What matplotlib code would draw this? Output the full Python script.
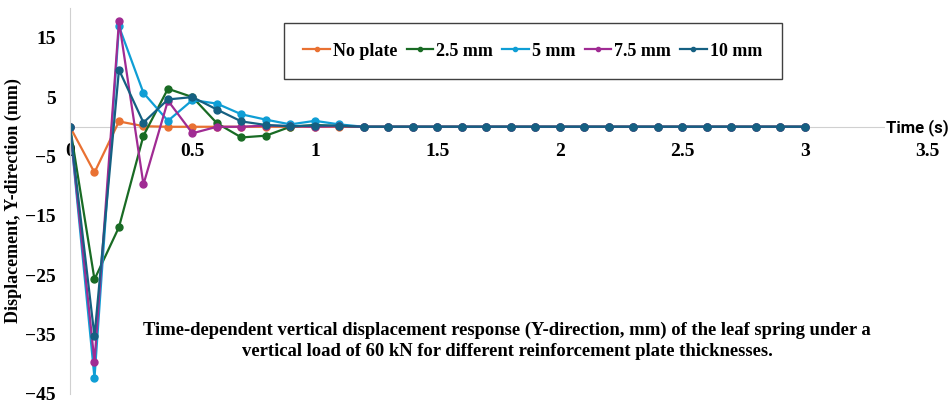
import numpy as np
import matplotlib
matplotlib.use("Agg")
import matplotlib.pyplot as plt

# time steps, 0 to 3 s every 0.1 s
time = [round(0.1 * i, 1) for i in range(31)]

no_plate = [0, -7.7, 0.9, 0.1, 0, 0, 0, 0, 0, 0, 0] + [0] * 20
mm_2_5 = [0, -25.7, -16.9, -1.5, 6.4, 5.0, 0.6, -1.8, -1.5, 0, 0.3, 0.1] + [0] * 19
mm_5 = [0, -42.3, 16.9, 5.7, 1.0, 4.5, 3.9, 2.1, 1.2, 0.4, 1.0, 0.4] + [0] * 19
mm_7_5 = [0, -39.6, 17.8, -9.7, 4.4, -1.1, 0, 0, 0.2, 0.1, 0, 0.1] + [0] * 19
mm_10 = [0, -35.3, 9.6, 0.7, 4.6, 5.0, 2.9, 0.9, 0.3, 0.1, 0.2, 0.2] + [0] * 19

labels = ["No plate", "2.5 mm", "5 mm", "7.5 mm", "10 mm"]
colors = ["#E97132", "#196B24", "#0F9ED5", "#A02B93", "#156082"]

x_ticks = [0, 0.5, 1, 1.5, 2, 2.5, 3, 3.5]
y_ticks = [-45, -35, -25, -15, -5, 5, 15]

serif = "Liberation Serif"

fig = plt.figure(figsize=(9.51, 4.03), dpi=100)
ax = fig.add_axes([70 / 951, 9 / 403, 857 / 951, 386 / 403])

for series, lab, col in zip([no_plate, mm_2_5, mm_5, mm_7_5, mm_10], labels, colors):
    ax.plot(time, series, color=col, lw=1.6, marker="o", ms=5, label=lab)

ax.set_xlim(0, 3.5)
ax.set_ylim(-45, 20)
ax.set_xticks(x_ticks)
ax.set_xticklabels([f"{t:g}" for t in x_ticks])
ax.set_yticks(y_ticks)

for side in ["top", "right"]:
    ax.spines[side].set_visible(False)
ax.spines["bottom"].set_position(("data", 0))
ax.spines["bottom"].set_color("#d0d0d0")
ax.spines["left"].set_color("#d0d0d0")
ax.spines["bottom"].set_zorder(0)
ax.tick_params(axis="both", length=0)
ax.tick_params(axis="x", pad=12)
ax.tick_params(axis="y", pad=10)
for lbl in ax.get_xticklabels() + ax.get_yticklabels():
    lbl.set_fontfamily(serif)
    lbl.set_fontweight("bold")
    lbl.set_fontsize(14)

fig.text(13 / 951, 1 - 201 / 403, "Displacement, Y-direction (mm)", rotation=90,
         ha="center", va="center", fontfamily=serif, fontweight="bold", fontsize=13)

fig.text(949 / 951, 1 - 128 / 403, "Time (s)", ha="right", va="center", fontfamily="Roboto",
         fontweight="bold", fontsize=12, bbox=dict(fc="white", ec="none", pad=1))

fig.text(507 / 951, 1 - 341 / 403,
         "Time-dependent vertical displacement response (Y-direction, mm) of the leaf spring under a\n"
         "vertical load of 60 kN for different reinforcement plate thicknesses.",
         ha="center", va="center", fontfamily=serif, fontweight="bold", fontsize=13.4,
         linespacing=1.3)

leg = ax.legend(loc="center", ncol=5,
                prop={"family": serif, "weight": "bold", "size": 13},
                handlelength=1.45, handletextpad=0.2, columnspacing=0.5,
                borderpad=1.1, borderaxespad=0, fancybox=False, edgecolor="#404040",
                framealpha=1, markerscale=0.6)
leg.set_bbox_to_anchor((533 / 951, 1 - 51 / 403), transform=fig.transFigure)
leg.get_frame().set_linewidth(1.0)

fig.savefig("out.png", dpi=100)
